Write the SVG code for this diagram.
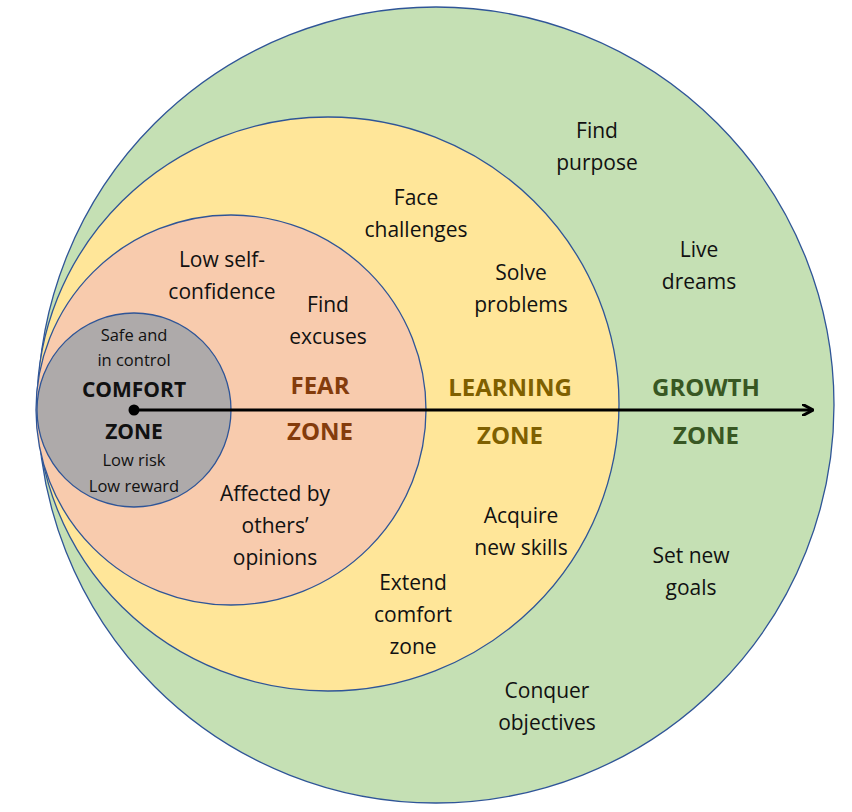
<svg xmlns="http://www.w3.org/2000/svg" width="852" height="812" viewBox="0 0 852 812">
<defs>
<style>
.c{stroke:#2f5597;stroke-width:1.3}
text{font-family:"Open Sans","Liberation Sans",sans-serif;fill:#111;text-anchor:middle}
.t{font-size:21px}
.s{font-size:16.5px}
.z{font-size:24px;font-weight:bold}
</style>
<marker id="ah" markerWidth="12" markerHeight="12" refX="10" refY="6" orient="auto" markerUnits="userSpaceOnUse"><path d="M0,0 L11,6 L0,12" fill="none" stroke="#000" stroke-width="3"/></marker>
</defs>
<rect width="852" height="812" fill="#fff"/>
<g id="growth"><circle class="c" cx="436" cy="405" r="398" fill="#c5e0b4"/>
<text class="t" x="597" y="138">Find</text><text class="t" x="597" y="170">purpose</text>
<text class="t" x="699" y="257">Live</text><text class="t" x="699" y="289">dreams</text>
<text class="t" x="691" y="563">Set new</text><text class="t" x="691" y="595">goals</text>
<text class="t" x="547" y="698">Conquer</text><text class="t" x="547" y="730">objectives</text>
<text class="z" x="706" y="396" fill="#385723" style="fill:#385723">GROWTH</text><text class="z" x="706" y="444" style="fill:#385723">ZONE</text></g>
<g id="learning"><ellipse class="c" cx="328" cy="404" rx="291" ry="287" fill="#ffe699"/>
<text class="t" x="416" y="205">Face</text><text class="t" x="416" y="237">challenges</text>
<text class="t" x="521" y="280">Solve</text><text class="t" x="521" y="312">problems</text>
<text class="t" x="521" y="523">Acquire</text><text class="t" x="521" y="555">new skills</text>
<text class="t" x="413" y="590">Extend</text><text class="t" x="413" y="622">comfort</text><text class="t" x="413" y="654">zone</text>
<text class="z" x="510" y="396" style="fill:#7f6000">LEARNING</text><text class="z" x="510" y="444" style="fill:#7f6000">ZONE</text></g>
<g id="fear"><circle class="c" cx="231" cy="410" r="195" fill="#f8cbad"/>
<text class="t" x="222" y="267">Low self-</text><text class="t" x="222" y="299">confidence</text>
<text class="t" x="328" y="312">Find</text><text class="t" x="328" y="344">excuses</text>
<text class="t" x="275" y="501">Affected by</text><text class="t" x="275" y="533">others’</text><text class="t" x="275" y="565">opinions</text>
<text class="z" x="320" y="394" style="fill:#843c0c">FEAR</text><text class="z" x="320" y="440" style="fill:#843c0c">ZONE</text></g>
<g id="comfort"><circle class="c" cx="134" cy="410" r="97" fill="#aeaaaa"/>
<text class="s" x="134" y="341">Safe and</text><text class="s" x="134" y="366">in control</text>
<text x="134" y="397" style="font-size:21px;font-weight:bold">COMFORT</text><text x="134" y="439" style="font-size:21px;font-weight:bold">ZONE</text>
<text class="s" x="134" y="466">Low risk</text><text class="s" x="134" y="492">Low reward</text></g>
<g id="connectors"><line x1="134" y1="410" x2="812" y2="410" stroke="#000" stroke-width="3" marker-end="url(#ah)"/><circle cx="134" cy="410" r="5.5" fill="#000"/></g>
</svg>
